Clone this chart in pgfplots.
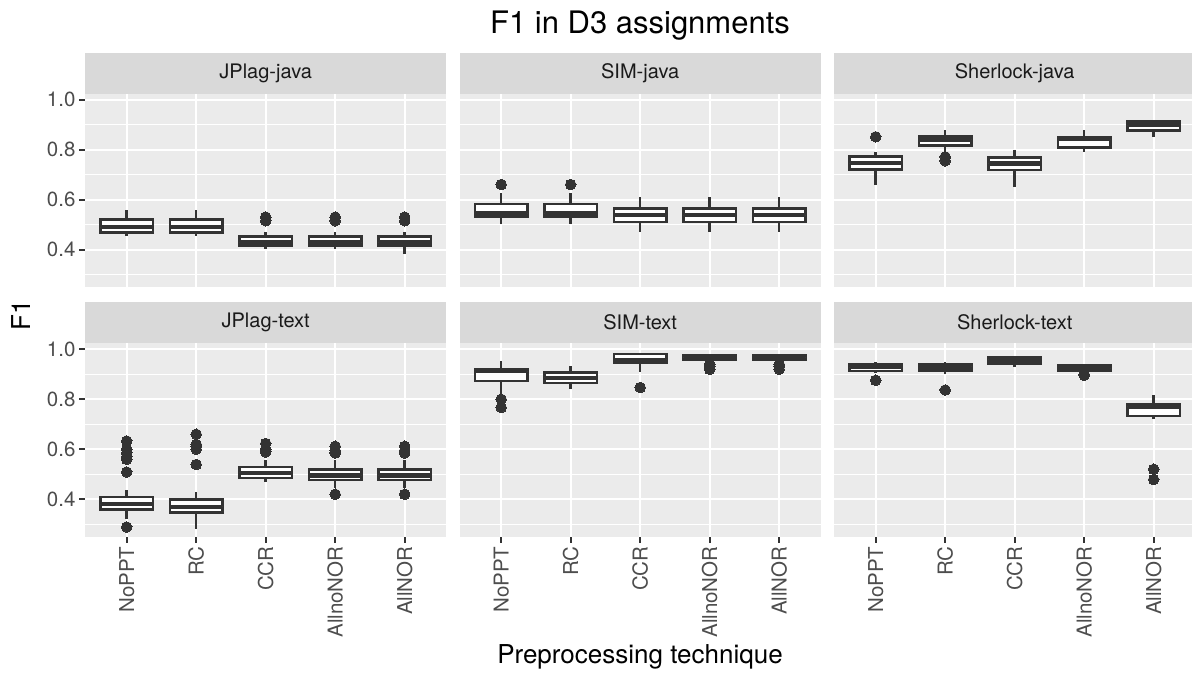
\documentclass[border=0pt]{standalone}
\usepackage{pgfplots}
\pgfplotsset{compat=1.18}
\usepgfplotslibrary{statistics}
\usepackage{fontspec}
\setmainfont{TeX Gyre Heros}

\definecolor{panelbg}{HTML}{EBEBEB}
\definecolor{stripbg}{HTML}{D9D9D9}
\definecolor{boxdark}{HTML}{333333}
\definecolor{ticktext}{HTML}{4D4D4D}
\definecolor{striptext}{HTML}{1A1A1A}

\newcommand{\ticksize}{\fontsize{20.5}{24}\selectfont}

\pgfplotsset{
  facet/.style={
    scale only axis, width=361.4pt, height=193.5pt,
    xmin=0.4, xmax=5.6, ymin=0.249, ymax=1.023,
    axis background/.style={fill=panelbg},
    axis line style={draw=none},
    xtick={1,2,3,4,5}, ytick={0.4,0.6,0.8,1.0},
    minor ytick={0.3,0.5,0.7,0.9},
    xmajorgrids, ymajorgrids, yminorgrids,
    major grid style={white, line width=2pt},
    minor grid style={white, line width=1pt},
    tick pos=left,
    tick align=outside, major tick length=6pt, minor tick length=0pt,
    xticklabels={}, yticklabels={},
    xtick style={draw=none}, ytick style={draw=none},
    clip=false,
    boxplot/draw direction=y,
    boxplot/box extend=0.75, boxplot/whisker extend=0,
    anchor=south west,
  },
  leftcol/.style={
    ytick style={draw=boxdark, line width=2pt},
    yticklabels={0.4,0.6,0.8,1.0},
    yticklabel style={font=\ticksize, text=ticktext},
  },
  bottomrow/.style={
    xtick style={draw=boxdark, line width=2pt},
    xticklabels={NoPPT,RC,CCR,AllnoNOR,AllNOR},
    xticklabel style={rotate=90, anchor=east, font=\ticksize, text=ticktext},
  },
  bp/.style={
    draw=boxdark, fill=white, line width=2.5pt, solid,
    mark=*, mark size=5.3pt,
    mark options={fill=boxdark, draw=boxdark, line width=0pt},
    boxplot/every median/.style={line width=4.3pt},
  },
}

% position, lower whisker, lower quartile, median, upper quartile, upper whisker, outliers
\newcommand{\bx}[7]{%
  \addplot[bp, boxplot prepared={draw position=#1, lower whisker=#2,
    lower quartile=#3, median=#4, upper quartile=#5, upper whisker=#6}]
    coordinates {#7};}

\newcommand{\strip}[3]{%
  \fill[stripbg] (#1pt,#2pt) rectangle ++(361.4pt,41.3pt);
  \node[text=striptext, font=\fontsize{20}{24}\selectfont]
    at (#1pt+180.7pt,#2pt+20.65pt) {#3};}

\begin{document}
\begin{tikzpicture}

% JPlag-java
\begin{axis}[facet, leftcol, at={(85pt,389.7pt)}]
  \bx{1}{0.453}{0.469}{0.490}{0.520}{0.560}{}
  \bx{2}{0.453}{0.469}{0.490}{0.520}{0.560}{}
  \bx{3}{0.403}{0.417}{0.429}{0.453}{0.469}{(3,0.530) (3,0.515)}
  \bx{4}{0.403}{0.417}{0.429}{0.453}{0.469}{(4,0.530) (4,0.515)}
  \bx{5}{0.384}{0.417}{0.429}{0.453}{0.469}{(5,0.530) (5,0.515)}
\end{axis}

% SIM-java
\begin{axis}[facet, at={(459.5pt,389.7pt)}]
  \bx{1}{0.504}{0.531}{0.544}{0.583}{0.627}{(1,0.660)}
  \bx{2}{0.504}{0.531}{0.544}{0.583}{0.627}{(2,0.660)}
  \bx{3}{0.471}{0.511}{0.537}{0.564}{0.611}{}
  \bx{4}{0.471}{0.511}{0.537}{0.564}{0.611}{}
  \bx{5}{0.471}{0.511}{0.537}{0.564}{0.611}{}
\end{axis}

% Sherlock-java
\begin{axis}[facet, at={(834pt,389.7pt)}]
  \bx{1}{0.660}{0.720}{0.745}{0.772}{0.789}{(1,0.851)}
  \bx{2}{0.793}{0.816}{0.839}{0.852}{0.877}{(2,0.771) (2,0.755)}
  \bx{3}{0.651}{0.719}{0.744}{0.769}{0.799}{}
  \bx{4}{0.791}{0.808}{0.842}{0.850}{0.877}{}
  \bx{5}{0.851}{0.877}{0.897}{0.912}{0.913}{}
\end{axis}

% JPlag-text
\begin{axis}[facet, leftcol, bottomrow, at={(85pt,140pt)}]
  \bx{1}{0.319}{0.359}{0.380}{0.409}{0.436}{(1,0.633) (1,0.600) (1,0.585) (1,0.570) (1,0.560) (1,0.509) (1,0.289)}
  \bx{2}{0.280}{0.347}{0.369}{0.399}{0.427}{(2,0.660) (2,0.620) (2,0.610) (2,0.600) (2,0.539)}
  \bx{3}{0.469}{0.485}{0.505}{0.529}{0.556}{(3,0.623) (3,0.600) (3,0.589)}
  \bx{4}{0.443}{0.476}{0.495}{0.519}{0.556}{(4,0.612) (4,0.595) (4,0.585) (4,0.420)}
  \bx{5}{0.443}{0.476}{0.495}{0.519}{0.556}{(5,0.612) (5,0.595) (5,0.585) (5,0.420)}
\end{axis}

% SIM-text
\begin{axis}[facet, bottomrow, at={(459.5pt,140pt)}]
  \bx{1}{0.816}{0.873}{0.912}{0.920}{0.953}{(1,0.800) (1,0.767)}
  \bx{2}{0.839}{0.865}{0.885}{0.907}{0.933}{}
  \bx{3}{0.909}{0.945}{0.958}{0.980}{0.985}{(3,0.847)}
  \bx{4}{0.950}{0.958}{0.968}{0.975}{0.980}{(4,0.940) (4,0.930) (4,0.920)}
  \bx{5}{0.950}{0.958}{0.968}{0.975}{0.980}{(5,0.940) (5,0.930) (5,0.920)}
\end{axis}

% Sherlock-text
\begin{axis}[facet, bottomrow, at={(834pt,140pt)}]
  \bx{1}{0.905}{0.912}{0.928}{0.940}{0.947}{(1,0.876)}
  \bx{2}{0.899}{0.915}{0.930}{0.940}{0.947}{(2,0.837)}
  \bx{3}{0.927}{0.943}{0.958}{0.969}{0.971}{}
  \bx{4}{0.905}{0.912}{0.924}{0.935}{0.937}{(4,0.900) (4,0.896)}
  \bx{5}{0.720}{0.733}{0.771}{0.780}{0.815}{(5,0.520) (5,0.479)}
\end{axis}

% facet strips
\strip{85}{583}{JPlag-java}
\strip{459.5}{583}{SIM-java}
\strip{834}{583}{Sherlock-java}
\strip{85}{333.7}{JPlag-text}
\strip{459.5}{333.7}{SIM-text}
\strip{834}{333.7}{Sherlock-text}

% titles
\node[anchor=base, font=\fontsize{31}{36}\selectfont] at (640pt,643pt) {F1 in D3 assignments};
\node[anchor=base, font=\fontsize{26}{30}\selectfont] at (640pt,13pt) {Preprocessing technique};
\node[rotate=90, font=\fontsize{26}{30}\selectfont] at (21pt,361.4pt) {F1};

\pgfresetboundingbox
\path[use as bounding box] (0pt,0pt) rectangle (1192pt,677pt);
\end{tikzpicture}
\end{document}
